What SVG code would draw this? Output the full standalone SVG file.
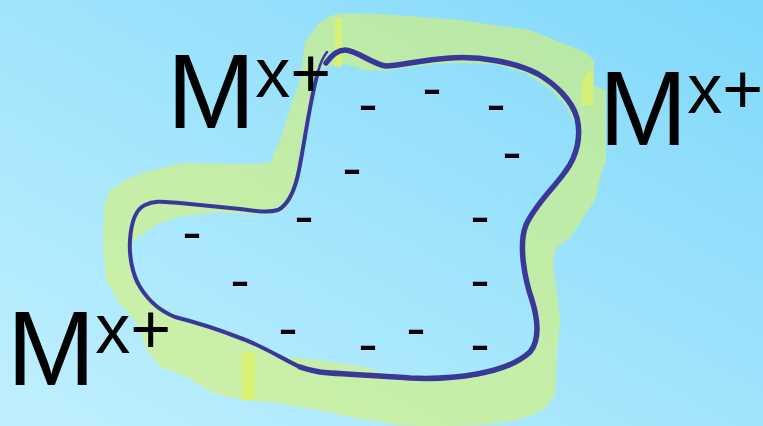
<svg xmlns="http://www.w3.org/2000/svg" width="763" height="426" viewBox="0 0 763 426">
  <defs>
    <linearGradient id="bg" x1="0" y1="1" x2="1" y2="0">
      <stop offset="0" stop-color="#c0f0ff"/>
      <stop offset="1" stop-color="#80d8fa"/>
    </linearGradient>
    <style>
      .lbl { font-family: "Liberation Sans", Arial, sans-serif; fill: #000; }
      .sup { font-size: 70px; }
      .chg { font-family: "DejaVu Sans", sans-serif; font-size: 54px; fill: #000; text-anchor: middle; }
      .edge { fill: none; stroke: #38389a; stroke-linecap: round; stroke-linejoin: round; }
      .hi { fill: #dcf266; opacity: 0.8; }
    </style>
  </defs>
  <rect x="0" y="0" width="763" height="426" fill="url(#bg)"/>

  <g id="band">
    <path fill="#dcf368" fill-opacity="0.57" fill-rule="evenodd" d="M318,24 L328,17 L340,13 L380,14 L420,17 L460,20 L500,26 L530,30 L560,42 L585,52 L594,60 L594,86 L606,90 L606,160 L599,182 L596,198 L582,220 L570,238 L556,248 L553,265 L558,300 L560,320 L557,355 L555,393 L548,406 L535,414 L512,421 L480,425 L450,426 L420,426 L400,425 L360,419 L333,413 L300,407 L277,403 L243,400 L213,393 L187,377 L160,367 L147,350 L137,323 L117,300 L106,280 L103,247 L104,205 L110,190 L125,180 L145,172 L183,163 L233,164 L270,163 L280,140 L292,103 L300,80 L305,42 Z
    M316,70 L330,66 L345,64 L365,70 L385,71 L410,67 L450,63 L495,64 L525,73 L550,89 L566,106 L576,125 L577,150 L566,170 L552,188 L534,206 L524,228 L523,255 L529,290 L535,315 L538,335 L532,350 L515,360 L495,368 L477,374 L433,378 L400,376 L380,372 L360,366 L330,362 L300,358 L285,357 L260,347 L230,336 L190,321 L160,310 L142,288 L133,268 L131,245 L137,238 L160,223 L182,216 L220,212 L265,215 L283,211 L294,196 L301,168 L307,130 L312,95 Z"/>
    <rect class="hi" x="335" y="18" width="7" height="49"/>
    <polygon class="hi" points="582,83 587,72 593,72 593,105 582,105"/>
    <rect class="hi" x="242" y="352" width="13" height="48"/>
  </g>

  <g id="connectors">
    <path class="edge" stroke-width="5.5" d="M326,63 C331,56 337,50 345,50 C356,50 372,64 386,66 C400,66 420,60 450,58 C480,56 515,62 538,74 C555,84 572,100 577,118 C581,135 578,155 565,172 C552,190 535,205 526,225 C518,245 525,280 532,300 C538,320 540,340 530,352 C518,363 500,370 477,374 C455,378 430,379 410,378 C385,376 350,375 320,372 C310,370 305,369 300,367"/>
    <path class="edge" stroke-width="4" d="M300,367 C285,360 262,346 243,339 C220,330 195,322 175,317 C160,311 148,300 140,287 C132,274 129,255 130,240 C131,225 134,210 145,205 C155,200 165,202 180,203 C200,205 220,207 240,209 C255,211 268,213 278,210 C288,205 295,190 299,170 C305,140 310,100 318,72"/>
    <path class="edge" stroke-width="2.5" d="M318,72 C320,64 323,57 327,52"/>
  </g>

  <g id="label-top">
    <text class="lbl" x="167" y="128" font-size="106">M<tspan class="sup" dy="-31">x+</tspan></text>
  </g>
  <g id="label-right">
    <text class="lbl" x="599" y="145" font-size="106">M<tspan class="sup" dy="-32">x+</tspan></text>
  </g>
  <g id="label-bottom">
    <text class="lbl" x="7" y="385" font-size="106">M<tspan class="sup" dy="-32">x+</tspan></text>
  </g>

  <g id="charges">
    <text class="chg" x="432" y="107">-</text>
    <text class="chg" x="368" y="123">-</text>
    <text class="chg" x="496" y="123">-</text>
    <text class="chg" x="512" y="171">-</text>
    <text class="chg" x="352" y="187">-</text>
    <text class="chg" x="304" y="235">-</text>
    <text class="chg" x="480" y="235">-</text>
    <text class="chg" x="192" y="251">-</text>
    <text class="chg" x="240" y="299">-</text>
    <text class="chg" x="480" y="299">-</text>
    <text class="chg" x="288" y="347">-</text>
    <text class="chg" x="416" y="347">-</text>
    <text class="chg" x="368" y="363">-</text>
    <text class="chg" x="480" y="363">-</text>
  </g>
</svg>
